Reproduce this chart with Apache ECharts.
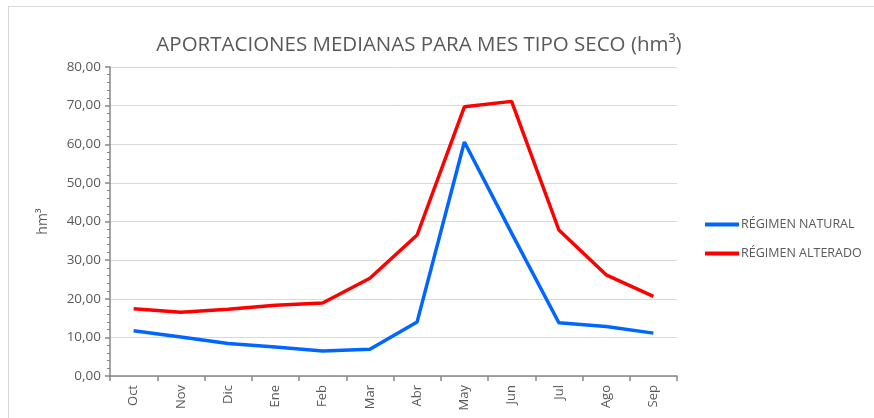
<!DOCTYPE html>
<html>
<head>
<meta charset="utf-8">
<script src="https://cdn.jsdelivr.net/npm/echarts@6/dist/echarts.min.js"></script>
<style>
  html, body { margin: 0; padding: 0; background: #fff; }
  #frame { position: absolute; left: 8px; top: 6px; width: 880px; height: 430px; border: 1px solid #d9d9d9; }
  #chart { width: 874px; height: 418px; position: absolute; left: 0; top: 0; }
</style>
</head>
<body>
<div id="frame"></div>
<div id="chart"></div>
<script>
// meses (año hidrológico)
const meses = ["Oct", "Nov", "Dic", "Ene", "Feb", "Mar", "Abr", "May", "Jun", "Jul", "Ago", "Sep"];
// hm3
const regimenNatural = [11.7, 10.1, 8.4, 7.5, 6.5, 6.9, 14.0, 60.6, 37.0, 13.8, 12.8, 11.1];
const regimenAlterado = [17.4, 16.5, 17.3, 18.3, 18.9, 25.3, 36.5, 69.7, 71.1, 37.8, 26.2, 20.6];

const fuente = "'Open Sans', 'Noto Sans', sans-serif";

let chart = echarts.init(document.getElementById("chart"), null, { renderer: "canvas" });

let options = {
  animation: false,
  textStyle: { fontFamily: fuente },
  title: {
    text: "APORTACIONES MEDIANAS PARA MES TIPO SECO (hm³)",
    left: 414,
    top: 30,
    textAlign: "center",
    textStyle: { fontSize: 20.5, fontWeight: "normal", color: "#595959", fontFamily: fuente },
  },
  grid: { left: 110, right: 197, top: 67, bottom: 42, containLabel: false },
  legend: {
    orient: "vertical",
    left: 700,
    top: 213,
    itemWidth: 34,
    itemHeight: 4,
    itemGap: 16,
    icon: "rect",
    textStyle: { fontSize: 12.5, color: "#595959", padding: [0, 0, 0, -3] },
    data: ["RÉGIMEN NATURAL", "RÉGIMEN ALTERADO"],
  },
  xAxis: {
    type: "category",
    data: meses,
    boundaryGap: true,
    axisLine: { lineStyle: { color: "#868686", width: 1.5 } },
    axisTick: { show: true, alignWithLabel: false, length: 5, lineStyle: { color: "#868686", width: 1.5 } },
    axisLabel: { rotate: 90, color: "#595959", fontSize: 13, margin: 9 },
  },
  yAxis: {
    type: "value",
    min: 0,
    max: 80,
    interval: 10,
    name: "hm³",
    nameLocation: "middle",
    nameGap: 60,
    nameRotate: 90,
    nameTextStyle: { color: "#595959", fontSize: 14 },
    axisLine: { show: true, lineStyle: { color: "#868686", width: 1.5 } },
    axisTick: { show: true, length: 5, inside: false, lineStyle: { color: "#868686", width: 1.5 } },
    minorTick: { show: true, splitNumber: 5, length: 3, lineStyle: { color: "#868686" } },
    splitLine: { show: true, lineStyle: { color: "#d9d9d9", width: 1 } },
    axisLabel: {
      color: "#595959",
      fontSize: 13.5,
      margin: 9,
      formatter: (v) => v.toFixed(2).replace(".", ","),
    },
  },
  series: [
    {
      name: "RÉGIMEN NATURAL",
      type: "line",
      data: regimenNatural,
      symbol: "none",
      lineStyle: { color: "#0066ff", width: 3.5 },
      itemStyle: { color: "#0066ff" },
    },
    {
      name: "RÉGIMEN ALTERADO",
      type: "line",
      data: regimenAlterado,
      symbol: "none",
      lineStyle: { color: "#ff0000", width: 3.5 },
      itemStyle: { color: "#ff0000" },
    },
  ],
};

chart.setOption(options);
</script>
</body>
</html>
